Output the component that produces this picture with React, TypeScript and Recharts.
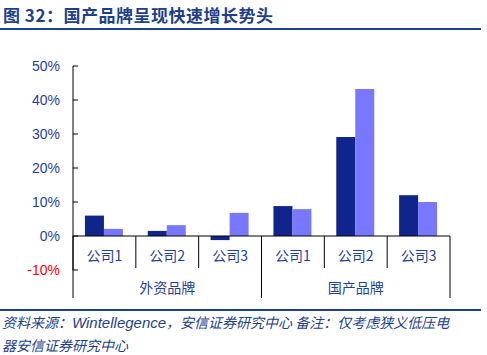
import { BarChart, Bar, XAxis, YAxis, ReferenceLine } from "recharts";

const companies = ["公司1", "公司2", "公司3", "公司1", "公司2", "公司3"];
const groups = ["外资品牌", "国产品牌"];
const groupSize = 3;
const seriesA = [6.0, 1.5, -1.2, 8.8, 29.1, 12.0];
const seriesB = [2.1, 3.2, 6.8, 7.9, 43.2, 10.0];
const yTicks = [-10, 0, 10, 20, 30, 40, 50];

const BLUE_TEXT = "#1F3F99";
const DARK_BAR = "#10258C";
const LIGHT_BAR = "#7878FF";

const chartData = companies.map((name, i) => ({
    id: i,
    name,
    a: seriesA[i],
    b: seriesB[i],
}));

function XTick(props: any) {
    const { x, y, index, width, visibleTicksCount } = props;
    const count = visibleTicksCount || companies.length;
    const band = (width || 377) / count;
    const half = band / 2;
    const zeroY = y - 34;
    const pos = index % groupSize;
    const left = x - half;
    const right = x + half;
    return (
        <g>
            <text x={x} y={y - 15} textAnchor="middle" dominantBaseline="central" fontSize={14} fill={BLUE_TEXT}
                fontFamily="'Noto Sans CJK SC', 'Liberation Sans', sans-serif">
                {companies[index]}
            </text>
            {/* separators between companies / groups */}
            {pos === 0 ? (
                <line x1={left} x2={left} y1={zeroY} y2={y + 28} stroke="#000" strokeWidth={1} />
            ) : (
                <line x1={left} x2={left} y1={zeroY} y2={y - 2} stroke="#000" strokeWidth={1} />
            )}
            {pos === groupSize - 1 && (
                <line x1={right} x2={right} y1={zeroY} y2={y + 28} stroke="#000" strokeWidth={1} />
            )}
            {pos === 1 && (
                <text x={x} y={y + 17} textAnchor="middle" dominantBaseline="central" fontSize={14} fill={BLUE_TEXT}
                    fontFamily="'Noto Sans CJK SC', sans-serif">
                    {groups[Math.floor(index / groupSize)]}
                </text>
            )}
        </g>
    );
}

function YTick(props: any) {
    const { x, y, payload } = props;
    const v = payload.value;
    return (
        <g>
            <line x1={x} x2={x + 5} y1={y} y2={y} stroke="#000" strokeWidth={1} />
            <text x={x - 13} y={y} textAnchor="end" dominantBaseline="central" fontSize={14}
                fill={v < 0 ? "#FF0000" : BLUE_TEXT} fontFamily="'Liberation Sans', Arial, sans-serif">
                {v + "%"}
            </text>
        </g>
    );
}

export default function App() {
    return (
        <div style={{ position: "absolute", left: 0, top: 0, width: 487, height: 355, background: "#fff", overflow: "hidden" }}>
            <div style={{
                position: "absolute", left: 3, top: 3, fontSize: 17, fontWeight: "bold", color: "#1E3F8C",
                fontFamily: "'Noto Sans CJK SC', 'Liberation Sans', sans-serif", lineHeight: "24px", whiteSpace: "nowrap",
                letterSpacing: 0.5,
            }}>
                图 32：国产品牌呈现快速增长势头
            </div>
            <div style={{ position: "absolute", left: 0, top: 28, width: 481, height: 2, background: "#1E3F8C" }} />

            <div style={{ position: "absolute", left: 0, top: 0 }}>
                <BarChart width={487} height={355} data={chartData}
                    margin={{ top: 66, right: 37, bottom: 55, left: 13 }}
                    barCategoryGap="19%" barGap={0}>
                    <XAxis dataKey="id" height={30} axisLine={false} tickLine={false} tickSize={0} tickMargin={0}
                        interval={0} tick={(p: any) => <XTick {...p} />} />
                    <YAxis width={60} domain={[-10, 50]} ticks={yTicks} axisLine={{ stroke: "#000" }}
                        tickLine={false} tickSize={0} tickMargin={0} interval={0}
                        tick={(p: any) => <YTick {...p} />} />
                    <Bar dataKey="a" fill={DARK_BAR} isAnimationActive={false} />
                    <Bar dataKey="b" fill={LIGHT_BAR} isAnimationActive={false} />
                    <ReferenceLine y={0} stroke="#000" strokeWidth={1} />
                </BarChart>
            </div>

            <div style={{ position: "absolute", left: 0, top: 309, width: 481, height: 2, background: "#1E3F8C" }} />
            <div style={{
                position: "absolute", left: 2, top: 311, fontSize: 14, fontStyle: "italic", color: "#1E3F8C",
                fontFamily: "'Noto Sans CJK SC', 'Liberation Sans', sans-serif", lineHeight: "22px", whiteSpace: "nowrap",
            }}>
                <div>资料来源：<span style={{ fontFamily: "'Liberation Sans', Arial, sans-serif", fontSize: 15 }}>Wintellegence</span>，安信证券研究中心 备注：仅考虑狭义低压电</div>
                <div>器安信证券研究中心</div>
            </div>
        </div>
    );
}
